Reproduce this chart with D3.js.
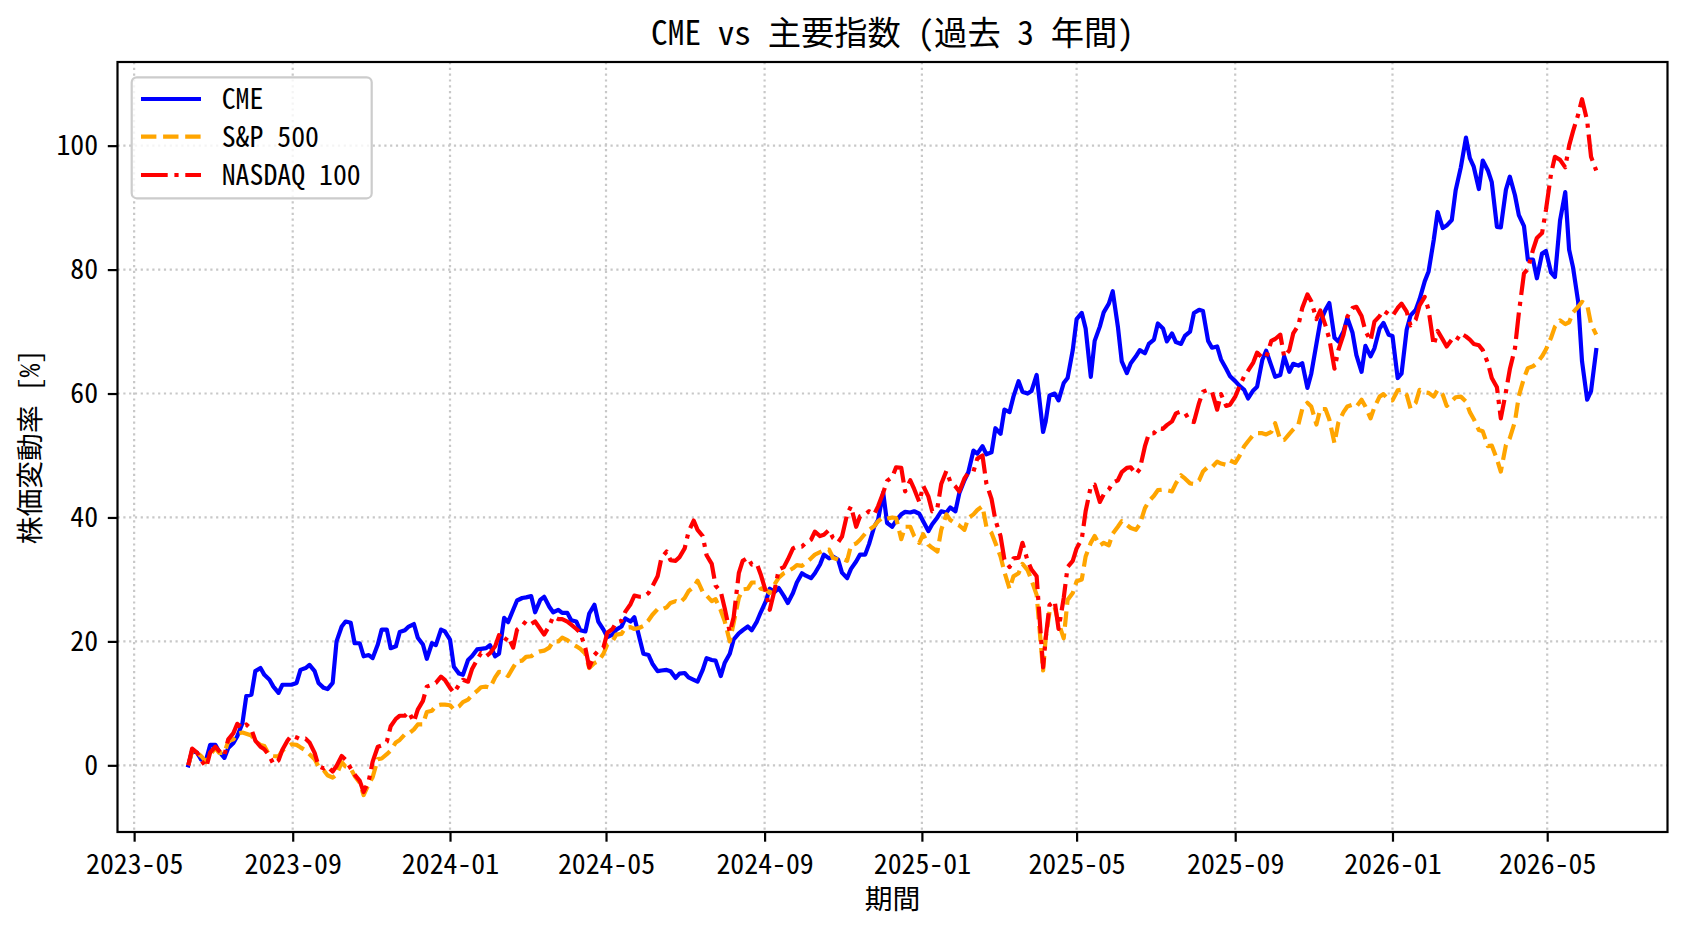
<!DOCTYPE html>
<html>
<head>
<meta charset="utf-8">
<script src="https://d3js.org/d3.v7.min.js"></script>
<style>
  html, body { margin: 0; background: #fff; }
  svg { display: block; }
  text { font-family: "Noto Sans Mono CJK JP", "Noto Sans CJK JP", sans-serif; fill: #000; }
</style>
</head>
<body>
<div id="chart"></div>
<script>
// DATA: twice-weekly samples, % change from the first day
const dates = [
  "2023-06-12","2023-06-15","2023-06-19","2023-06-22","2023-06-26","2023-06-29","2023-07-03","2023-07-06",
  "2023-07-10","2023-07-13","2023-07-17","2023-07-20","2023-07-24","2023-07-27","2023-07-31","2023-08-03",
  "2023-08-07","2023-08-10","2023-08-14","2023-08-17","2023-08-21","2023-08-24","2023-08-28","2023-08-31",
  "2023-09-04","2023-09-07","2023-09-11","2023-09-14","2023-09-18","2023-09-21","2023-09-25","2023-09-28",
  "2023-10-02","2023-10-05","2023-10-09","2023-10-12","2023-10-16","2023-10-19","2023-10-23","2023-10-26",
  "2023-10-30","2023-11-02","2023-11-06","2023-11-09","2023-11-13","2023-11-16","2023-11-20","2023-11-23",
  "2023-11-27","2023-11-30","2023-12-04","2023-12-07","2023-12-11","2023-12-14","2023-12-18","2023-12-21",
  "2023-12-25","2023-12-28","2024-01-01","2024-01-04","2024-01-08","2024-01-11","2024-01-15","2024-01-18",
  "2024-01-22","2024-01-25","2024-01-29","2024-02-01","2024-02-05","2024-02-08","2024-02-12","2024-02-15",
  "2024-02-19","2024-02-22","2024-02-26","2024-02-29","2024-03-04","2024-03-07","2024-03-11","2024-03-14",
  "2024-03-18","2024-03-21","2024-03-25","2024-03-28","2024-04-01","2024-04-04","2024-04-08","2024-04-11",
  "2024-04-15","2024-04-18","2024-04-22","2024-04-25","2024-04-29","2024-05-02","2024-05-06","2024-05-09",
  "2024-05-13","2024-05-16","2024-05-20","2024-05-23","2024-05-27","2024-05-30","2024-06-03","2024-06-06",
  "2024-06-10","2024-06-13","2024-06-17","2024-06-20","2024-06-24","2024-06-27","2024-07-01","2024-07-04",
  "2024-07-08","2024-07-11","2024-07-15","2024-07-18","2024-07-22","2024-07-25","2024-07-29","2024-08-01",
  "2024-08-05","2024-08-08","2024-08-12","2024-08-15","2024-08-19","2024-08-22","2024-08-26","2024-08-29",
  "2024-09-02","2024-09-05","2024-09-09","2024-09-12","2024-09-16","2024-09-19","2024-09-23","2024-09-26",
  "2024-09-30","2024-10-03","2024-10-07","2024-10-10","2024-10-14","2024-10-17","2024-10-21","2024-10-24",
  "2024-10-28","2024-10-31","2024-11-04","2024-11-07","2024-11-11","2024-11-14","2024-11-18","2024-11-21",
  "2024-11-25","2024-11-28","2024-12-02","2024-12-05","2024-12-09","2024-12-12","2024-12-16","2024-12-19",
  "2024-12-23","2024-12-26","2024-12-30","2025-01-02","2025-01-06","2025-01-09","2025-01-13","2025-01-16",
  "2025-01-20","2025-01-23","2025-01-27","2025-01-30","2025-02-03","2025-02-06","2025-02-10","2025-02-13",
  "2025-02-17","2025-02-20","2025-02-24","2025-02-27","2025-03-03","2025-03-06","2025-03-10","2025-03-13",
  "2025-03-17","2025-03-20","2025-03-24","2025-03-27","2025-03-31","2025-04-05","2025-04-07","2025-04-10",
  "2025-04-14","2025-04-17","2025-04-21","2025-04-24","2025-04-28","2025-05-01","2025-05-05","2025-05-08",
  "2025-05-12","2025-05-15","2025-05-19","2025-05-22","2025-05-26","2025-05-29","2025-06-02","2025-06-05",
  "2025-06-09","2025-06-12","2025-06-16","2025-06-19","2025-06-23","2025-06-26","2025-06-30","2025-07-03",
  "2025-07-07","2025-07-10","2025-07-14","2025-07-17","2025-07-21","2025-07-24","2025-07-28","2025-07-31",
  "2025-08-04","2025-08-07","2025-08-11","2025-08-14","2025-08-18","2025-08-21","2025-08-25","2025-08-28",
  "2025-09-01","2025-09-04","2025-09-08","2025-09-11","2025-09-15","2025-09-18","2025-09-22","2025-09-25",
  "2025-09-29","2025-10-02","2025-10-06","2025-10-09","2025-10-13","2025-10-16","2025-10-20","2025-10-23",
  "2025-10-27","2025-10-30","2025-11-03","2025-11-06","2025-11-10","2025-11-13","2025-11-17","2025-11-20",
  "2025-11-24","2025-11-27","2025-12-01","2025-12-04","2025-12-08","2025-12-11","2025-12-15","2025-12-18",
  "2025-12-22","2025-12-25","2025-12-29","2026-01-01","2026-01-05","2026-01-08","2026-01-12","2026-01-15",
  "2026-01-19","2026-01-22","2026-01-26","2026-01-29","2026-02-02","2026-02-05","2026-02-09","2026-02-12",
  "2026-02-16","2026-02-19","2026-02-23","2026-02-27","2026-03-02","2026-03-05","2026-03-09","2026-03-12",
  "2026-03-16","2026-03-19","2026-03-23","2026-03-26","2026-03-30","2026-04-02","2026-04-06","2026-04-09",
  "2026-04-13","2026-04-16","2026-04-20","2026-04-23","2026-04-27","2026-04-30","2026-05-04","2026-05-07",
  "2026-05-11","2026-05-15","2026-05-18","2026-05-21","2026-05-25","2026-05-28","2026-06-01","2026-06-04",
  "2026-06-08"
];

const cme = [
  0.0, 2.4, 2.0, 0.9, 1.0, 3.3, 3.3, 2.2,
  1.2, 2.8, 3.6, 4.7, 6.8, 11.2, 11.4, 15.2,
  15.7, 14.6, 13.8, 12.7, 11.7, 13.0, 13.0, 13.0,
  13.3, 15.4, 15.7, 16.2, 15.2, 13.3, 12.5, 12.3,
  13.3, 20.0, 22.4, 23.2, 23.0, 19.7, 19.7, 17.6,
  17.8, 17.3, 19.5, 21.9, 21.9, 18.9, 19.2, 21.5,
  21.8, 22.4, 22.8, 20.6, 19.5, 17.2, 19.7, 19.4,
  21.9, 21.6, 20.3, 15.9, 14.8, 14.6, 17.0, 17.6,
  18.7, 18.8, 18.9, 19.4, 17.6, 18.0, 23.8, 23.1,
  25.1, 26.6, 27.0, 27.1, 27.3, 24.7, 26.7, 27.2,
  25.6, 24.7, 25.1, 24.6, 24.6, 23.4, 23.2, 21.8,
  21.6, 24.5, 25.9, 23.2, 21.9, 20.7, 21.1, 21.9,
  22.4, 23.7, 23.2, 23.9, 20.5, 18.0, 17.8, 16.4,
  15.2, 15.3, 15.4, 15.2, 14.1, 14.8, 14.9, 14.2,
  13.8, 13.5, 15.4, 17.3, 17.0, 16.9, 14.4, 16.5,
  18.0, 20.3, 21.3, 21.8, 22.4, 21.8, 23.2, 24.7,
  26.5, 28.5, 28.0, 28.6, 27.3, 26.2, 27.8, 29.5,
  31.0, 30.6, 30.2, 31.0, 32.4, 34.0, 33.4, 33.7,
  33.2, 31.1, 30.2, 31.7, 32.9, 34.0, 34.0, 35.7,
  38.5, 39.6, 44.0, 39.1, 38.5, 39.5, 40.5, 40.9,
  40.8, 41.0, 40.6, 39.4, 37.8, 38.9, 40.0, 41.0,
  40.8, 41.6, 41.0, 43.9, 46.0, 47.3, 50.8, 50.3,
  51.5, 50.2, 50.5, 54.4, 53.5, 57.4, 57.0, 59.5,
  62.0, 60.3, 60.0, 60.4, 63.0, 53.8, 55.5, 59.7,
  60.0, 58.9, 61.7, 62.5, 67.0, 72.0, 73.0, 70.5,
  62.7, 68.5, 70.8, 73.1, 74.5, 76.5, 70.8, 65.2,
  63.3, 64.9, 66.0, 67.0, 66.5, 68.0, 68.7, 71.3,
  70.5, 68.4, 69.7, 68.3, 68.0, 69.3, 70.0, 73.0,
  73.5, 73.3, 68.5, 67.4, 67.6, 65.5, 64.0, 62.8,
  62.0, 61.3, 60.6, 59.2, 60.5, 61.1, 65.4, 66.9,
  64.5, 62.7, 63.0, 66.0, 63.5, 64.8, 64.5, 64.9,
  60.9, 63.2, 68.0, 71.6, 73.5, 74.6, 69.0, 68.4,
  70.0, 72.2, 69.8, 66.2, 63.5, 67.7, 66.0, 67.3,
  70.5, 71.4, 69.5, 69.3, 62.5, 63.2, 70.3, 72.6,
  73.5, 75.2, 78.1, 79.7, 84.8, 89.3, 86.7, 87.1,
  88.0, 92.8, 96.5, 101.3, 98.0, 96.6, 93.0, 97.6,
  96.0, 94.1, 86.9, 86.8, 92.9, 95.0, 92.0, 88.8,
  87.0, 81.6, 81.6, 78.6, 82.6, 83.0, 79.5, 78.8,
  88.0, 92.5, 83.2, 80.4, 74.8, 65.2, 59.0, 60.4,
  67.0
];

const sp500 = [
  0.0, 2.3, 2.0, 1.5, 0.5, 1.7, 2.8, 2.0,
  2.0, 3.9, 4.2, 5.1, 5.3, 5.1, 4.8, 3.9,
  3.3, 3.1, 1.6, 1.5, 1.4, 2.4, 3.0, 3.4,
  3.3, 2.9, 2.4, 1.8, 1.0, -0.2, -0.8, -1.6,
  -2.0, -1.5, 0.5, -0.2, -0.5, -1.7, -2.8, -4.8,
  -3.0, -1.9, 1.0, 1.1, 1.8, 2.4, 3.7, 4.1,
  5.0, 5.1, 5.8, 6.6, 6.6, 8.6, 8.8, 9.6,
  9.8, 9.8, 9.7, 9.0, 9.5, 10.2, 10.6, 11.3,
  12.0, 12.6, 12.7, 12.5, 14.2, 15.1, 15.0, 14.4,
  15.8, 16.8, 16.9, 17.5, 17.6, 18.1, 18.4, 18.5,
  19.0, 20.0, 20.0, 20.6, 20.2, 19.7, 19.2, 18.8,
  18.0, 15.7, 16.5, 16.8, 18.0, 19.5, 20.0, 21.1,
  21.2, 22.2, 22.3, 22.0, 22.2, 22.5, 23.4, 24.3,
  25.2, 25.1, 25.5, 26.2, 26.5, 26.2, 27.0, 28.1,
  28.8, 29.8, 28.0, 27.4, 26.5, 26.8, 25.0, 23.3,
  20.0, 23.0, 27.0, 28.4, 28.5, 29.5, 29.5, 28.5,
  28.3, 27.8, 29.3, 30.3, 31.0, 31.3, 31.8, 32.3,
  32.2, 32.7, 33.4, 34.0, 34.4, 34.7, 34.8, 33.5,
  33.2, 33.3, 33.0, 35.5, 35.8, 36.4, 37.4, 38.0,
  38.6, 39.4, 40.0, 39.8, 40.0, 39.9, 36.5, 38.5,
  38.5, 37.0, 35.9, 37.3, 35.6, 35.1, 34.5, 38.0,
  40.5, 39.6, 39.0, 38.7, 38.0, 39.9, 40.5, 41.2,
  41.8, 38.5, 37.5, 35.9, 33.7, 31.2, 28.5, 30.5,
  31.0, 32.5, 31.5, 29.9, 27.5, 15.3, 20.5, 24.8,
  25.5, 23.0, 20.5, 26.7, 27.8, 29.7, 30.0, 33.7,
  35.9, 37.0, 35.5, 35.9, 35.5, 37.4, 38.5, 39.4,
  38.8, 38.3, 38.0, 38.9, 41.5, 42.6, 43.5, 44.4,
  44.5, 44.4, 44.2, 45.5, 46.8, 46.3, 45.5, 45.4,
  46.0, 47.4, 48.2, 48.1, 49.0, 48.7, 48.5, 49.2,
  48.8, 49.8, 51.5, 52.3, 53.3, 53.6, 53.6, 53.4,
  53.8, 55.2, 52.5, 52.5, 53.5, 54.2, 55.0, 57.5,
  58.5, 57.9, 55.0, 57.5, 57.5, 55.8, 52.0, 55.3,
  57.0, 57.9, 58.2, 57.9, 59.0, 57.9, 56.0, 57.8,
  59.5, 59.9, 59.0, 58.9, 60.5, 60.6, 59.8, 57.6,
  58.5, 60.6, 60.2, 60.1, 59.5, 60.6, 59.8, 58.0,
  58.8, 59.4, 59.5, 58.7, 57.0, 55.9, 54.1, 53.9,
  51.5, 51.6, 49.4, 47.4, 51.7, 52.8, 55.5, 59.6,
  62.5, 64.1, 64.4, 64.9, 66.0, 67.1, 69.0, 70.8,
  71.8, 71.2, 71.5, 73.1, 74.0, 74.8, 74.3, 71.2,
  69.5
];

const nasdaq100 = [
  0.0, 2.7, 2.0, 0.8, -0.3, 2.1, 3.0, 2.3,
  1.6, 4.2, 5.2, 6.7, 6.0, 6.6, 5.8, 4.0,
  3.0, 2.6, 1.5, 0.2, 0.8, 2.5, 4.0, 4.8,
  4.5, 4.2, 4.3, 3.7, 2.0, -0.1, -0.5, -0.2,
  -1.0, -0.1, 1.5, 0.9, -0.5, -1.5, -2.5, -4.3,
  -2.5, 0.6, 3.0, 3.2, 3.8, 6.3, 7.5, 8.0,
  8.0, 8.6, 7.0, 9.0, 10.4, 12.7, 13.0, 13.3,
  14.3, 13.8, 12.5, 11.7, 13.0, 13.8, 13.5, 15.5,
  17.0, 18.1, 17.6, 18.1, 19.2, 21.0, 20.0, 20.8,
  19.0, 21.9, 22.5, 23.3, 22.8, 23.2, 22.0, 21.1,
  22.5, 24.0, 23.6, 23.6, 23.2, 22.7, 22.0, 21.4,
  18.9, 15.8, 17.8, 18.5, 19.0, 21.4, 22.0, 23.1,
  23.3, 24.8, 26.0, 27.4, 27.2, 27.2, 27.8, 28.9,
  30.5, 33.5, 34.5, 33.1, 33.0, 33.6, 35.0, 37.7,
  39.5, 38.0, 37.0, 33.9, 32.5, 29.0, 28.0, 25.4,
  21.5, 23.9, 31.0, 33.0, 33.5, 32.4, 32.5, 30.8,
  28.0, 25.1, 28.5, 31.6, 32.0, 33.2, 35.0, 35.3,
  35.3, 35.9, 36.4, 37.7, 37.0, 37.2, 38.0, 36.7,
  36.0, 36.9, 40.5, 41.8, 38.5, 40.2, 40.5, 41.0,
  40.5, 41.8, 44.0, 45.9, 46.5, 48.1, 48.0, 44.2,
  46.0, 44.6, 42.5, 45.1, 43.4, 41.0, 41.5, 45.4,
  47.5, 45.8, 45.0, 44.2, 46.3, 47.2, 47.4, 49.5,
  50.0, 45.5, 43.0, 39.6, 37.0, 33.2, 32.0, 33.4,
  33.5, 35.9, 33.0, 31.6, 30.5, 15.8, 20.5, 25.9,
  26.5, 22.0, 27.0, 32.0, 33.0, 35.0, 36.5, 41.0,
  45.0, 45.3, 42.5, 43.7, 44.5, 45.6, 46.0, 47.3,
  48.0, 48.1, 47.0, 47.8, 51.5, 53.5, 53.6, 54.4,
  54.3, 54.9, 55.5, 56.8, 57.1, 56.9, 55.5, 55.4,
  58.5, 60.3, 60.6, 60.3, 57.4, 59.9, 58.0, 58.2,
  59.5, 61.0, 62.8, 63.7, 65.0, 66.6, 65.8, 65.8,
  68.5, 68.8, 69.5, 65.9, 67.0, 69.7, 71.0, 73.8,
  76.0, 74.9, 72.0, 73.4, 71.0, 68.8, 64.0, 67.0,
  69.5, 72.4, 73.8, 74.0, 72.5, 70.1, 68.5, 71.6,
  72.5, 73.4, 72.8, 72.5, 73.8, 74.5, 73.2, 71.0,
  71.9, 74.2, 75.6, 73.5, 67.8, 70.1, 68.7, 67.6,
  68.7, 68.4, 69.7, 69.2, 68.7, 68.0, 67.8, 67.0,
  64.9, 62.5, 61.0, 56.0, 60.3, 63.9, 67.3, 73.0,
  79.4, 80.1, 83.2, 85.1, 85.9, 89.6, 95.5, 98.2,
  97.7, 96.5, 100.0, 102.3, 105.0, 107.5, 104.0, 98.2,
  96.0
];

const xTicks = ["2023-05-01","2023-09-01","2024-01-01","2024-05-01","2024-09-01",
                "2025-01-01","2025-05-01","2025-09-01","2026-01-01","2026-05-01"];
const yTicks = [0, 20, 40, 60, 80, 100];

const seriesNames = ["CME", "S&P 500", "NASDAQ 100"];
const seriesValues = [cme, sp500, nasdaq100];

// STYLE
const seriesStyle = [
  { color: "#0000ff", dash: null },
  { color: "#ffa500", dash: "15.4,6.7" },
  { color: "#ff0000", dash: "26.7,6.7,4.2,6.7" }
];

const W = 1688, H = 932;
const plot = { left: 117.5, right: 1667.5, top: 62, bottom: 832 };
const FS = 27.8;       // 10pt @ 200dpi
const FS_TITLE = 33.3; // 12pt @ 200dpi
const LW = 4.2;
const tickLen = 9.7, tickPad = 9.7;

const parse = d3.timeParse("%Y-%m-%d");
const dateObjs = dates.map(parse);

const x = d3.scaleTime()
  .domain([new Date(2023, 3, 18, 2, 24), new Date(2026, 7, 2, 7, 12)])
  .range([plot.left, plot.right]);
const y = d3.scaleLinear()
  .domain([-10.76, 113.5])
  .range([plot.bottom, plot.top]);

const svg = d3.select("#chart").append("svg")
  .attr("width", W).attr("height", H)
  .attr("viewBox", `0 0 ${W} ${H}`);

svg.append("rect").attr("width", W).attr("height", H).attr("fill", "#fff");

svg.append("defs").append("clipPath").attr("id", "clip")
  .append("rect")
  .attr("x", plot.left).attr("y", plot.top)
  .attr("width", plot.right - plot.left).attr("height", plot.bottom - plot.top);

// Grid
const grid = svg.append("g").attr("class", "grid")
  .attr("stroke", "#c8c8c8").attr("stroke-width", 2.2)
  .attr("stroke-dasharray", "2.2,3.6");

grid.selectAll("line.vx")
  .data(xTicks.map(parse))
  .join("line")
  .attr("x1", d => x(d)).attr("x2", d => x(d))
  .attr("y1", plot.top).attr("y2", plot.bottom);

grid.selectAll("line.hy")
  .data(yTicks)
  .join("line")
  .attr("x1", plot.left).attr("x2", plot.right)
  .attr("y1", d => y(d)).attr("y2", d => y(d));

// Lines
const line = d3.line()
  .x((d, i) => x(dateObjs[i]))
  .y(d => y(d));

const gLines = svg.append("g").attr("clip-path", "url(#clip)");
seriesValues.forEach((vals, i) => {
  gLines.append("path")
    .datum(vals)
    .attr("d", line)
    .attr("fill", "none")
    .attr("stroke", seriesStyle[i].color)
    .attr("stroke-width", LW)
    .attr("stroke-linejoin", "round")
    .attr("stroke-linecap", seriesStyle[i].dash ? "butt" : "square")
    .attr("stroke-dasharray", seriesStyle[i].dash);
});

// Axes
const xAxis = svg.append("g")
  .attr("transform", `translate(0,${plot.bottom})`)
  .call(d3.axisBottom(x)
    .tickValues(xTicks.map(parse))
    .tickFormat(d3.timeFormat("%Y-%m"))
    .tickSize(tickLen)
    .tickPadding(tickPad));

const yAxis = svg.append("g")
  .attr("transform", `translate(${plot.left},0)`)
  .call(d3.axisLeft(y)
    .tickValues(yTicks)
    .tickSize(tickLen)
    .tickPadding(tickPad));

[xAxis, yAxis].forEach(g => {
  g.select(".domain").remove();
  g.selectAll(".tick line").attr("stroke", "#000").attr("stroke-width", 2.2);
  g.selectAll(".tick text")
    .attr("font-size", FS)
    .attr("font-family", null)
    .attr("fill", "#000");
});
xAxis.selectAll(".tick text").attr("dy", "0.8em");

// Frame
svg.append("rect")
  .attr("x", plot.left).attr("y", plot.top)
  .attr("width", plot.right - plot.left).attr("height", plot.bottom - plot.top)
  .attr("fill", "none").attr("stroke", "#000").attr("stroke-width", 2.2);

// Title and axis labels
const cx = (plot.left + plot.right) / 2;
svg.append("text")
  .attr("x", cx).attr("y", 45)
  .attr("text-anchor", "middle")
  .attr("font-size", FS_TITLE)
  .text("CME vs 主要指数 (過去 3 年間)");

svg.append("text")
  .attr("x", cx).attr("y", 909)
  .attr("text-anchor", "middle")
  .attr("font-size", FS)
  .text("期間");

svg.append("text")
  .attr("transform", `translate(40,${(plot.top + plot.bottom) / 2}) rotate(-90)`)
  .attr("text-anchor", "middle")
  .attr("font-size", FS)
  .text("株価変動率 [%]");

// Legend
const legend = svg.append("g");
legend.append("rect")
  .attr("x", 131.7).attr("y", 77.3)
  .attr("width", 240).attr("height", 121)
  .attr("rx", 5)
  .attr("fill", "#fff").attr("fill-opacity", 0.8)
  .attr("stroke", "#cccccc").attr("stroke-width", 2.2);

const rowY = [99, 136.7, 175];
seriesNames.forEach((name, i) => {
  legend.append("line")
    .attr("x1", 141).attr("x2", 201)
    .attr("y1", rowY[i]).attr("y2", rowY[i])
    .attr("stroke", seriesStyle[i].color)
    .attr("stroke-width", LW)
    .attr("stroke-dasharray", seriesStyle[i].dash);
  legend.append("text")
    .attr("x", 221.7).attr("y", rowY[i])
    .attr("dy", "0.36em")
    .attr("font-size", FS)
    .text(name);
});
</script>
</body>
</html>
